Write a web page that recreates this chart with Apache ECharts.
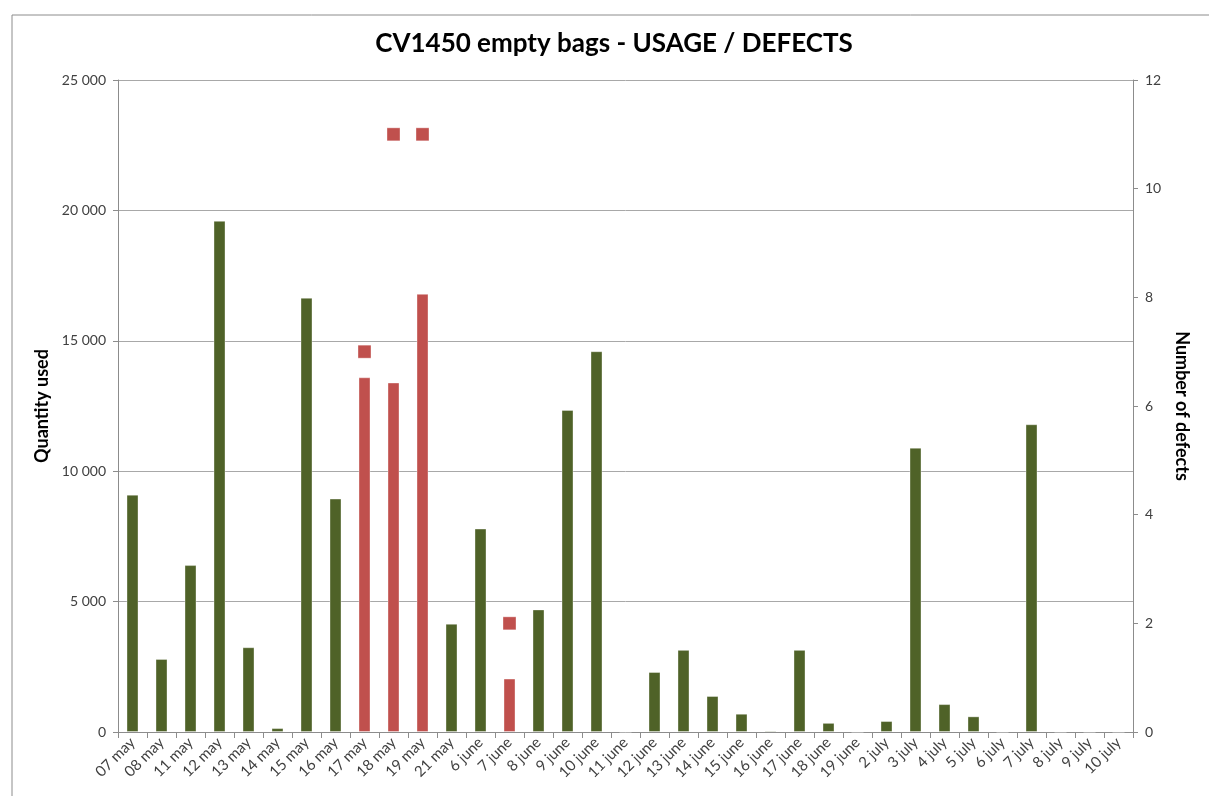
<!DOCTYPE html>
<html>
<head>
<meta charset="utf-8">
<script src="https://cdn.jsdelivr.net/npm/echarts@6/dist/echarts.min.js"></script>
<style>
html,body{margin:0;padding:0;background:#fff;}
#chart{width:1209px;height:796px;}
</style>
</head>
<body>
<div id="chart"></div>
<script>
const categories = ['07 may','08 may','11 may','12 may','13 may','14 may','15 may','16 may','17 may','18 may','19 may','21 may','6 june','7 june','8 june','9 june','10 june','11 june','12 june','13 june','14 june','15 june','16 june','17 june','18 june','19 june','2 july','3 july','4 july','5 july','6 july','7 july','8 july','9 july','10 july'];
const quantityUsed = [9100,2800,6400,19600,3250,150,16650,8950,13600,13400,16800,4150,7800,2050,4700,12350,14600,0,2300,3150,1380,700,50,3150,350,0,420,10900,1070,600,0,11800,0,0,0];
const defects = [null,null,null,null,null,null,null,null,7,11,11,null,null,2,null,null,null,null,null,null,null,null,null,null,null,null,null,null,null,null,null,null,null,null,null];
const leftTicks = [0,5000,10000,15000,20000,25000];
const rightTicks = [0,2,4,6,8,10,12];

const GREEN = '#4f6228';
const RED = '#c0504d';
const FONT = 'Lato';

const barData = quantityUsed.map((v, i) => ({
  value: v,
  itemStyle: { color: (defects[i] && defects[i] > 0) ? RED : GREEN }
}));

const chart = echarts.init(document.getElementById('chart'), null, {renderer: 'canvas'});
chart.setOption({
  backgroundColor: '#fff',
  animation: false,
  title: {
    text: 'CV1450 empty bags - USAGE / DEFECTS',
    left: 609, top: 26, textAlign: 'center',
    textStyle: { fontFamily: FONT, fontWeight: 'bold', fontSize: 26, color: '#000' }
  },
  graphic: [{
    type: 'rect', left: 9.5, top: 12.5, z: -1,
    shape: { width: 1300, height: 900 },
    style: { fill: 'none', stroke: '#8c8c8c', lineWidth: 1 }
  }],
  grid: { left: 118, right: 76, top: 80, bottom: 64 },
  xAxis: {
    type: 'category',
    data: categories,
    axisLine: { lineStyle: { color: '#8c8c8c' } },
    axisTick: { show: true, interval: 0, length: 6, lineStyle: { color: '#8c8c8c' } },
    axisLabel: { interval: 0, rotate: 45, margin: 8, fontFamily: FONT, fontSize: 15, color: '#404040' }
  },
  yAxis: [{
    type: 'value', min: 0, max: 25000, interval: 5000,
    name: 'Quantity used', nameLocation: 'middle', nameGap: 66,
    nameTextStyle: { fontFamily: FONT, fontWeight: 'bold', fontSize: 18, color: '#000' },
    axisLine: { show: true, lineStyle: { color: '#8c8c8c' } },
    axisTick: { show: true, length: 5, lineStyle: { color: '#8c8c8c' } },
    axisLabel: { margin: 12, fontFamily: FONT, fontSize: 14, color: '#404040',
      formatter: v => String(v).replace(/\B(?=(\d{3})+(?!\d))/g, ' ') },
    splitLine: { show: true, lineStyle: { color: '#a8a8a8', width: 1 } }
  }, {
    type: 'value', min: 0, max: 12, interval: 2,
    name: 'Number of defects', nameLocation: 'middle', nameGap: 40, nameRotate: -90,
    nameTextStyle: { fontFamily: FONT, fontWeight: 'bold', fontSize: 18, color: '#000' },
    axisLine: { show: true, lineStyle: { color: '#8c8c8c' } },
    axisTick: { show: true, length: 5, lineStyle: { color: '#8c8c8c' } },
    axisLabel: { margin: 12, fontFamily: FONT, fontSize: 14, color: '#404040' },
    splitLine: { show: false }
  }],
  series: [{
    name: 'Quantity used', type: 'bar', yAxisIndex: 0,
    data: barData, barWidth: 12,
    itemStyle: { borderColor: 'rgba(255,255,255,0.35)', borderWidth: 1 }
  }, {
    name: 'Number of defects', type: 'scatter', yAxisIndex: 1,
    data: defects.map(v => v === null ? '-' : v),
    symbol: 'rect', symbolSize: 13,
    itemStyle: { color: RED, opacity: 1, borderColor: 'rgba(255,255,255,0.35)', borderWidth: 1 },
    z: 3
  }]
});
</script>
</body>
</html>
